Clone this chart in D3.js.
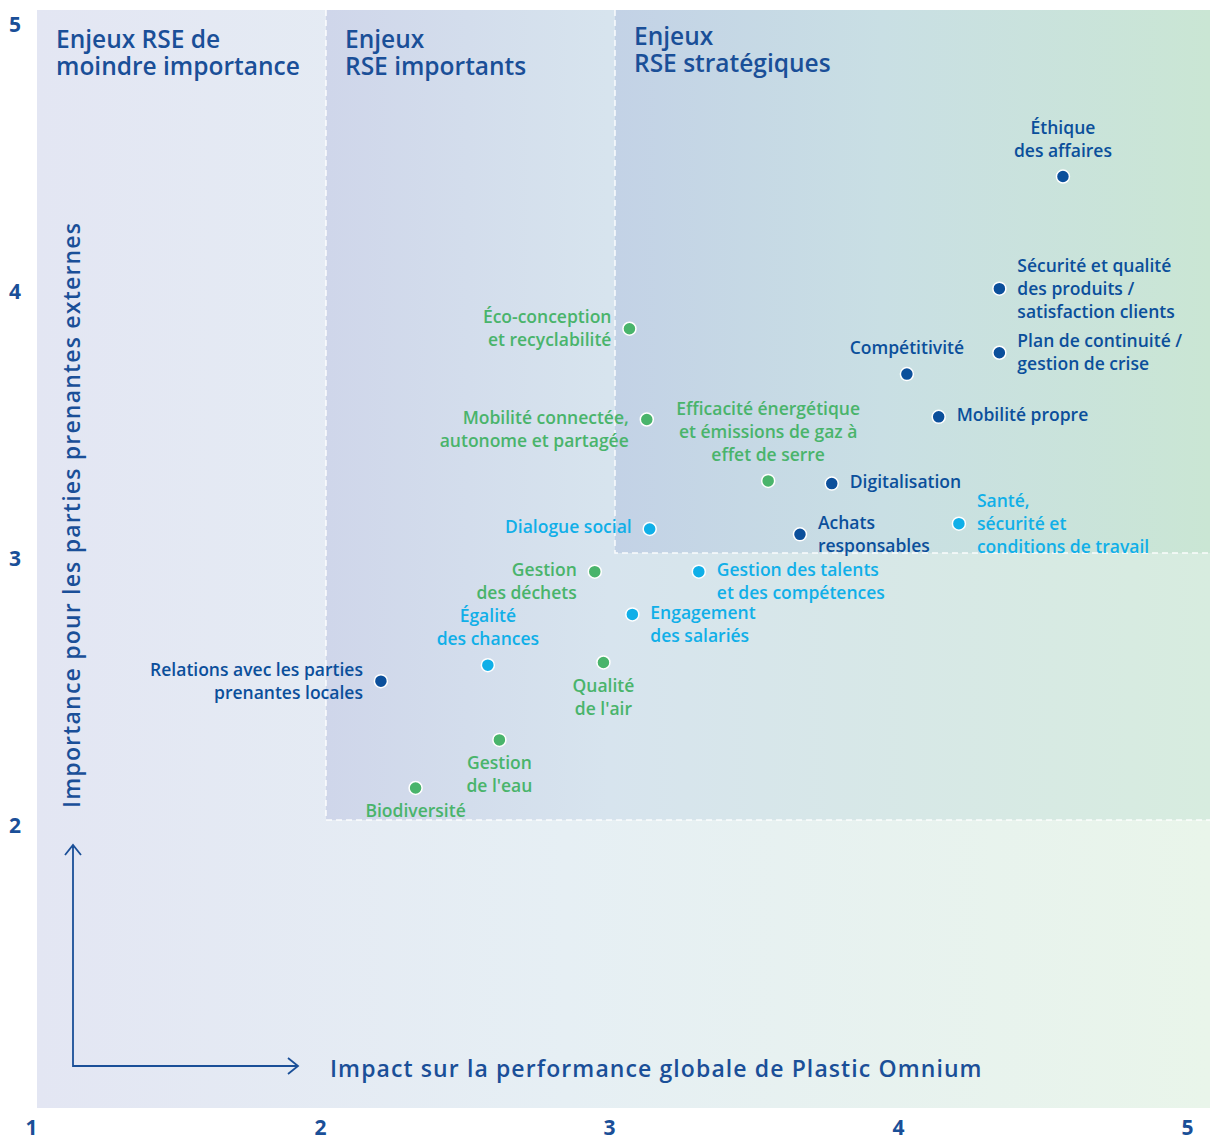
<!DOCTYPE html>
<html>
<head>
<meta charset="utf-8">
<script src="https://cdn.jsdelivr.net/npm/d3@7"></script>
<style>
  body { margin: 0; background: #fff; }
  svg text { font-family: "Open Sans", Lato, sans-serif; }
</style>
</head>
<body>
<svg id="chart" width="1213" height="1144"></svg>
<script>
// materiality matrix
const issueLabels = [
    "Éthique\ndes affaires",
    "Sécurité et qualité\ndes produits /\nsatisfaction clients",
    "Plan de continuité /\ngestion de crise",
    "Compétitivité",
    "Mobilité propre",
    "Digitalisation",
    "Achats\nresponsables",
    "Santé,\nsécurité et\nconditions de travail",
    "Efficacité énergétique\net émissions de gaz à\neffet de serre",
    "Éco-conception\net recyclabilité",
    "Mobilité connectée,\nautonome et partagée",
    "Dialogue social",
    "Gestion\ndes déchets",
    "Gestion des talents\net des compétences",
    "Engagement\ndes salariés",
    "Égalité\ndes chances",
    "Qualité\nde l'air",
    "Relations avec les parties\nprenantes locales",
    "Gestion\nde l'eau",
    "Biodiversité"
];
const impact =     [4.55, 4.33, 4.33, 4.01, 4.12, 3.75, 3.64, 4.19, 3.53, 3.05, 3.11, 3.12, 2.93, 3.29, 3.06, 2.56, 2.96, 2.19, 2.60, 2.31];
const importance = [4.41, 3.99, 3.75, 3.67, 3.51, 3.26, 3.07, 3.11, 3.27, 3.84, 3.50, 3.09, 2.93, 2.93, 2.77, 2.58, 2.59, 2.52, 2.30, 2.12];
const pillar = ["gouv", "gouv", "gouv", "gouv", "gouv", "gouv", "gouv", "social", "env", "env",
                "env", "social", "env", "social", "social", "social", "env", "gouv", "env", "env"];

const xTicks = [1, 2, 3, 4, 5];
const yTicks = [2, 3, 4, 5];

const zoneNames = ["Enjeux RSE de\nmoindre importance", "Enjeux\nRSE importants", "Enjeux\nRSE stratégiques"];
const zoneStart = [1, 2, 3];   // impact where each zone begins
const zoneFloor = [null, 2, 3]; // importance where each zone stops

const xTitle = "Impact sur la performance globale de Plastic Omnium";
const yTitle = "Importance pour les parties prenantes externes";

// where each label sits relative to its dot (t=above, b=below, r/l=side, c=block centred)
const labelSide = ["t", "rc", "rc", "t", "r", "r", "rc", "rc", "t", "lc",
                   "l", "l", "l", "r", "r", "t", "b", "lc", "b", "b"];

const pillarColor = { gouv: "#0b4f9b", env: "#49b46b", social: "#10afe8" };
const navy = "#1a4f98";

const svg = d3.select("#chart");

const x = d3.scaleLinear().domain([1, 5]).range([37, 1193]);
const y = d3.scaleLinear().domain([1, 5]).range([1087, 19]);

const plotLeft = x(1), plotRight = 1210, plotTop = 10, plotBottom = 1108;

// gradients
const defs = svg.append("defs");
const addGrad = (id, stops) => {
    const g = defs.append("linearGradient").attr("id", id)
        .attr("x1", 0).attr("x2", 1).attr("y1", 0).attr("y2", 0);
    stops.forEach(s => g.append("stop").attr("offset", s[0]).attr("stop-color", s[1]));
};
addGrad("gBase", [[0, "#e3e6f3"], [0.45, "#e6eff4"], [1, "#e9f5ea"]]);
addGrad("gImp", [[0, "#cfd6ea"], [0.32, "#d7e4ee"], [1, "#d7ecdf"]]);
addGrad("gStrat", [[0, "#c3d2e6"], [0.45, "#c9dfe4"], [1, "#cae6d4"]]);

svg.append("rect")
    .attr("x", plotLeft).attr("y", plotTop)
    .attr("width", plotRight - plotLeft).attr("height", plotBottom - plotTop)
    .attr("fill", "url(#gBase)");

const zoneFill = [null, "url(#gImp)", "url(#gStrat)"];
[1, 2].forEach(i => {
    const x0 = x(zoneStart[i]), y1 = y(zoneFloor[i]);
    svg.append("rect")
        .attr("x", x0).attr("y", plotTop)
        .attr("width", plotRight - x0).attr("height", y1 - plotTop)
        .attr("fill", zoneFill[i]);
    svg.append("path")
        .attr("d", `M${x0},${plotTop}V${y1}H${plotRight}`)
        .attr("fill", "none")
        .attr("stroke", "#fff")
        .attr("stroke-width", 1.5)
        .attr("stroke-dasharray", "6 4")
        .attr("opacity", 0.9);
});

// zone titles
zoneNames.forEach((name, i) => {
    const t = svg.append("text")
        .attr("x", x(zoneStart[i]) + 19)
        .attr("y", i == 2 ? 36 : 39)
        .attr("fill", navy)
        .style("font-size", "24.5px")
        .style("font-weight", 600);
    name.split("\n").forEach((line, k) => {
        t.append("tspan")
            .attr("x", x(zoneStart[i]) + 19)
            .attr("dy", k == 0 ? "0.35em" : "27px")
            .text(line);
    });
});

// axes (tick numbers only)
const xAxis = d3.axisBottom(x).tickValues(xTicks).tickSize(0).tickFormat(d3.format("d"));
svg.append("g")
    .attr("transform", "translate(-6,1117)")
    .call(xAxis)
    .call(g => g.select(".domain").remove())
    .selectAll("text")
    .attr("fill", navy)
    .style("font-size", "21px")
    .style("font-weight", 700);

const yAxis = d3.axisLeft(y).tickValues(yTicks).tickSize(0).tickFormat(d3.format("d"));
svg.append("g")
    .attr("transform", "translate(24,0)")
    .call(yAxis)
    .call(g => g.select(".domain").remove())
    .selectAll("text")
    .attr("dy", "0.6em")
    .attr("fill", navy)
    .style("font-size", "21px")
    .style("font-weight", 700);

// axis titles and arrows
svg.append("text")
    .attr("transform", "translate(80,808) rotate(-90)")
    .attr("fill", navy)
    .style("font-size", "23px")
    .style("font-weight", 600)
    .style("letter-spacing", "1.2px")
    .text(yTitle);

svg.append("text")
    .attr("x", 330).attr("y", 1069)
    .attr("dy", "0.35em")
    .attr("fill", navy)
    .style("font-size", "23px")
    .style("font-weight", 600)
    .style("letter-spacing", "1.1px")
    .text(xTitle);

svg.append("path")
    .attr("d", "M73,845V1066H298 M65,855L73,845L81,855 M288,1058L298,1066L288,1074")
    .attr("fill", "none")
    .attr("stroke", navy)
    .attr("stroke-width", 1.8);

// dots
const issues = issueLabels.map((label, i) => ({
    lines: label.split("\n"),
    ix: impact[i],
    iy: importance[i],
    pillar: pillar[i],
    side: labelSide[i]
}));

svg.append("g").selectAll("circle")
    .data(issues)
    .join("circle")
    .attr("cx", d => x(d.ix))
    .attr("cy", d => y(d.iy))
    .attr("r", 6.5)
    .attr("fill", d => pillarColor[d.pillar])
    .attr("stroke", "#fff")
    .attr("stroke-width", 1.5);

// labels
const lh = 23;
const labelG = svg.append("g");
issues.forEach(d => {
    const cx = x(d.ix), cy = y(d.iy);
    const n = d.lines.length;
    let tx = cx, anchor = "middle", firstY;
    if (d.side == "t") {
        firstY = cy - 26 - (n - 1) * lh;
    } else if (d.side == "b") {
        firstY = cy + 23;
    } else {
        const right = d.side[0] == "r";
        tx = right ? cx + 18 : cx - 18;
        anchor = right ? "start" : "end";
        firstY = d.side.length > 1 ? cy - (n - 1) * lh / 2 : cy - 2;
    }
    const t = labelG.append("text")
        .attr("text-anchor", anchor)
        .attr("fill", pillarColor[d.pillar])
        .style("font-size", "17.5px")
        .style("font-weight", 600);
    d.lines.forEach((line, k) => {
        t.append("tspan")
            .attr("x", tx)
            .attr("y", firstY + k * lh)
            .attr("dy", "0.35em")
            .text(line);
    });
});
</script>
</body>
</html>
